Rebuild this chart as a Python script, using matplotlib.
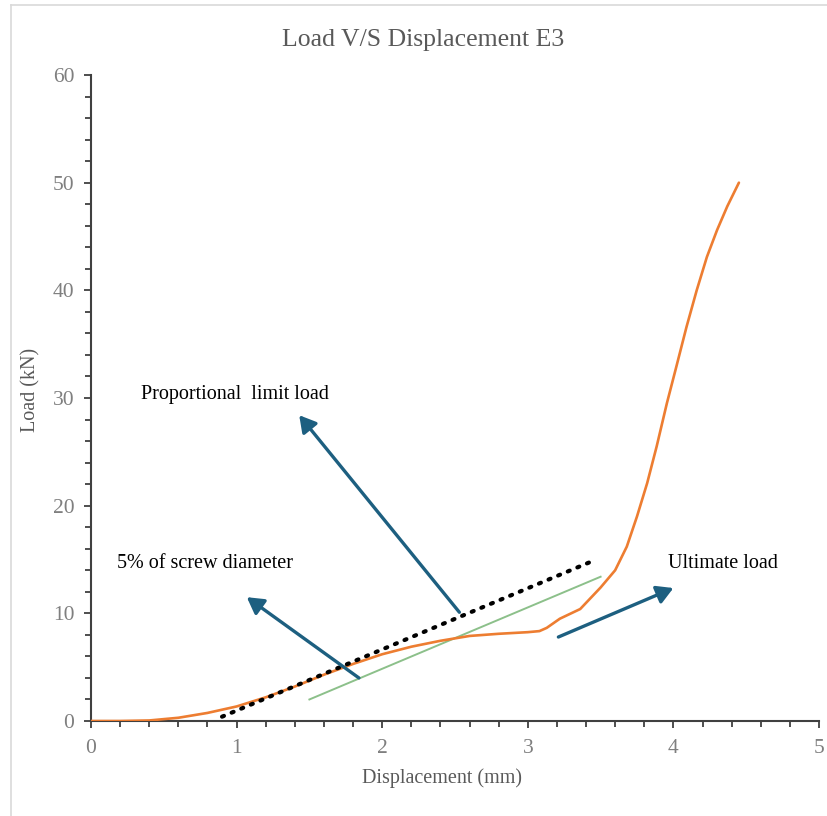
import matplotlib.pyplot as plt
from matplotlib.lines import Line2D
from matplotlib.patches import FancyArrowPatch
from matplotlib.ticker import MultipleLocator

# Load-displacement record for specimen E3
DISP_MM = [0.0, 0.2, 0.4, 0.6, 0.8, 1.0, 1.2, 1.4, 1.6, 1.8, 2.0, 2.2, 2.4,
           2.6, 2.8, 3.0, 3.08, 3.13, 3.22, 3.36, 3.50, 3.60, 3.68, 3.75,
           3.82, 3.885, 3.955, 4.02, 4.09, 4.16, 4.23, 4.30, 4.37, 4.45]
LOAD_KN = [0.0, 0.0, 0.05, 0.3, 0.75, 1.35, 2.2, 3.2, 4.3, 5.3, 6.2, 6.9, 7.45,
           7.9, 8.1, 8.25, 8.35, 8.65, 9.5, 10.4, 12.4, 14.0, 16.2, 19.0,
           22.1, 25.5, 29.5, 32.9, 36.6, 40.0, 43.1, 45.6, 47.8, 50.0]

# Proportional-limit tangent (dotted) and 5% screw-diameter offset (green)
TANGENT_X = [0.90, 3.47]
TANGENT_Y = [0.4, 15.0]
OFFSET_X = [1.50, 3.50]
OFFSET_Y = [2.0, 13.4]

# Callouts: (text, text x, text y, arrow tail, arrow head)
CALLOUTS = [
    ("Proportional  limit load", 0.34, 30.3, (2.53, 10.1), (1.43, 28.4)),
    ("5% of screw diameter", 0.18, 14.6, (1.84, 4.0), (1.07, 11.5)),
    ("Ultimate load", 3.96, 14.6, (3.21, 7.8), (4.00, 12.35)),
]

ORANGE = "#ED7D31"
GREEN = "#8CC08A"
ARROW = "#1D5F80"
GREY = "#595959"
TICK_GREY = "#7F7F7F"
SERIF = ["Liberation Serif", "DejaVu Serif"]

plt.rcParams["font.family"] = SERIF

fig = plt.figure(figsize=(8.28, 8.16), dpi=100)
ax = fig.add_axes([91 / 828, 1 - 721 / 816, (819 - 91) / 828, (721 - 75) / 816])

# chart-area border (only the top/left edges fall inside the image)
fig.add_artist(Line2D([11 / 828, 11 / 828], [0, 1 - 5 / 816],
                      transform=fig.transFigure, color="#D9D9D9", lw=1.2))
fig.add_artist(Line2D([11 / 828, 1], [1 - 5 / 816, 1 - 5 / 816],
                      transform=fig.transFigure, color="#D9D9D9", lw=1.2))

ax.plot(DISP_MM, LOAD_KN, color=ORANGE, lw=1.9, solid_capstyle="round",
        solid_joinstyle="round", zorder=3)
ax.plot(OFFSET_X, OFFSET_Y, color=GREEN, lw=1.4, zorder=2)
ax.plot(TANGENT_X, TANGENT_Y, color="black", lw=3.0, linestyle=(0, (0.5, 2.0)),
        dash_capstyle="round", zorder=4)

for text, tx, ty, tail, head in CALLOUTS:
    ax.text(tx, ty, text, fontsize=14.5, color="black", ha="left", va="center")
    ax.add_patch(FancyArrowPatch(tail, head, arrowstyle="-|>,head_length=7,head_width=4",
                                 mutation_scale=1.4, color=ARROW, lw=2.4,
                                 shrinkA=0, shrinkB=0, zorder=5))

ax.set_xlim(0, 5)
ax.set_ylim(0, 60)
ax.xaxis.set_major_locator(MultipleLocator(1))
ax.xaxis.set_minor_locator(MultipleLocator(0.2))
ax.yaxis.set_major_locator(MultipleLocator(10))
ax.yaxis.set_minor_locator(MultipleLocator(2))

for side in ("top", "right"):
    ax.spines[side].set_visible(False)
for side in ("left", "bottom"):
    ax.spines[side].set_color("#404040")
    ax.spines[side].set_linewidth(1.5)

ax.tick_params(which="both", direction="out", color="#404040", width=1.3)
ax.tick_params(which="major", length=5, labelsize=15.5, labelcolor=TICK_GREY, pad=8)
ax.tick_params(which="minor", length=4)
ax.tick_params(axis="y", which="major", pad=7)

fig.text(423 / 828, 1 - 40 / 816, "Load V/S Displacement E3", fontsize=18.5,
         color=GREY, ha="center", va="center")
fig.text(442 / 828, 1 - 778 / 816, "Displacement (mm)", fontsize=14.5,
         color=GREY, ha="center", va="center")
fig.text(31 / 828, 1 - 390 / 816, "Load (kN)", fontsize=14.5, color=GREY,
         ha="center", va="center", rotation=90)

fig.savefig("out.png", dpi=100)
